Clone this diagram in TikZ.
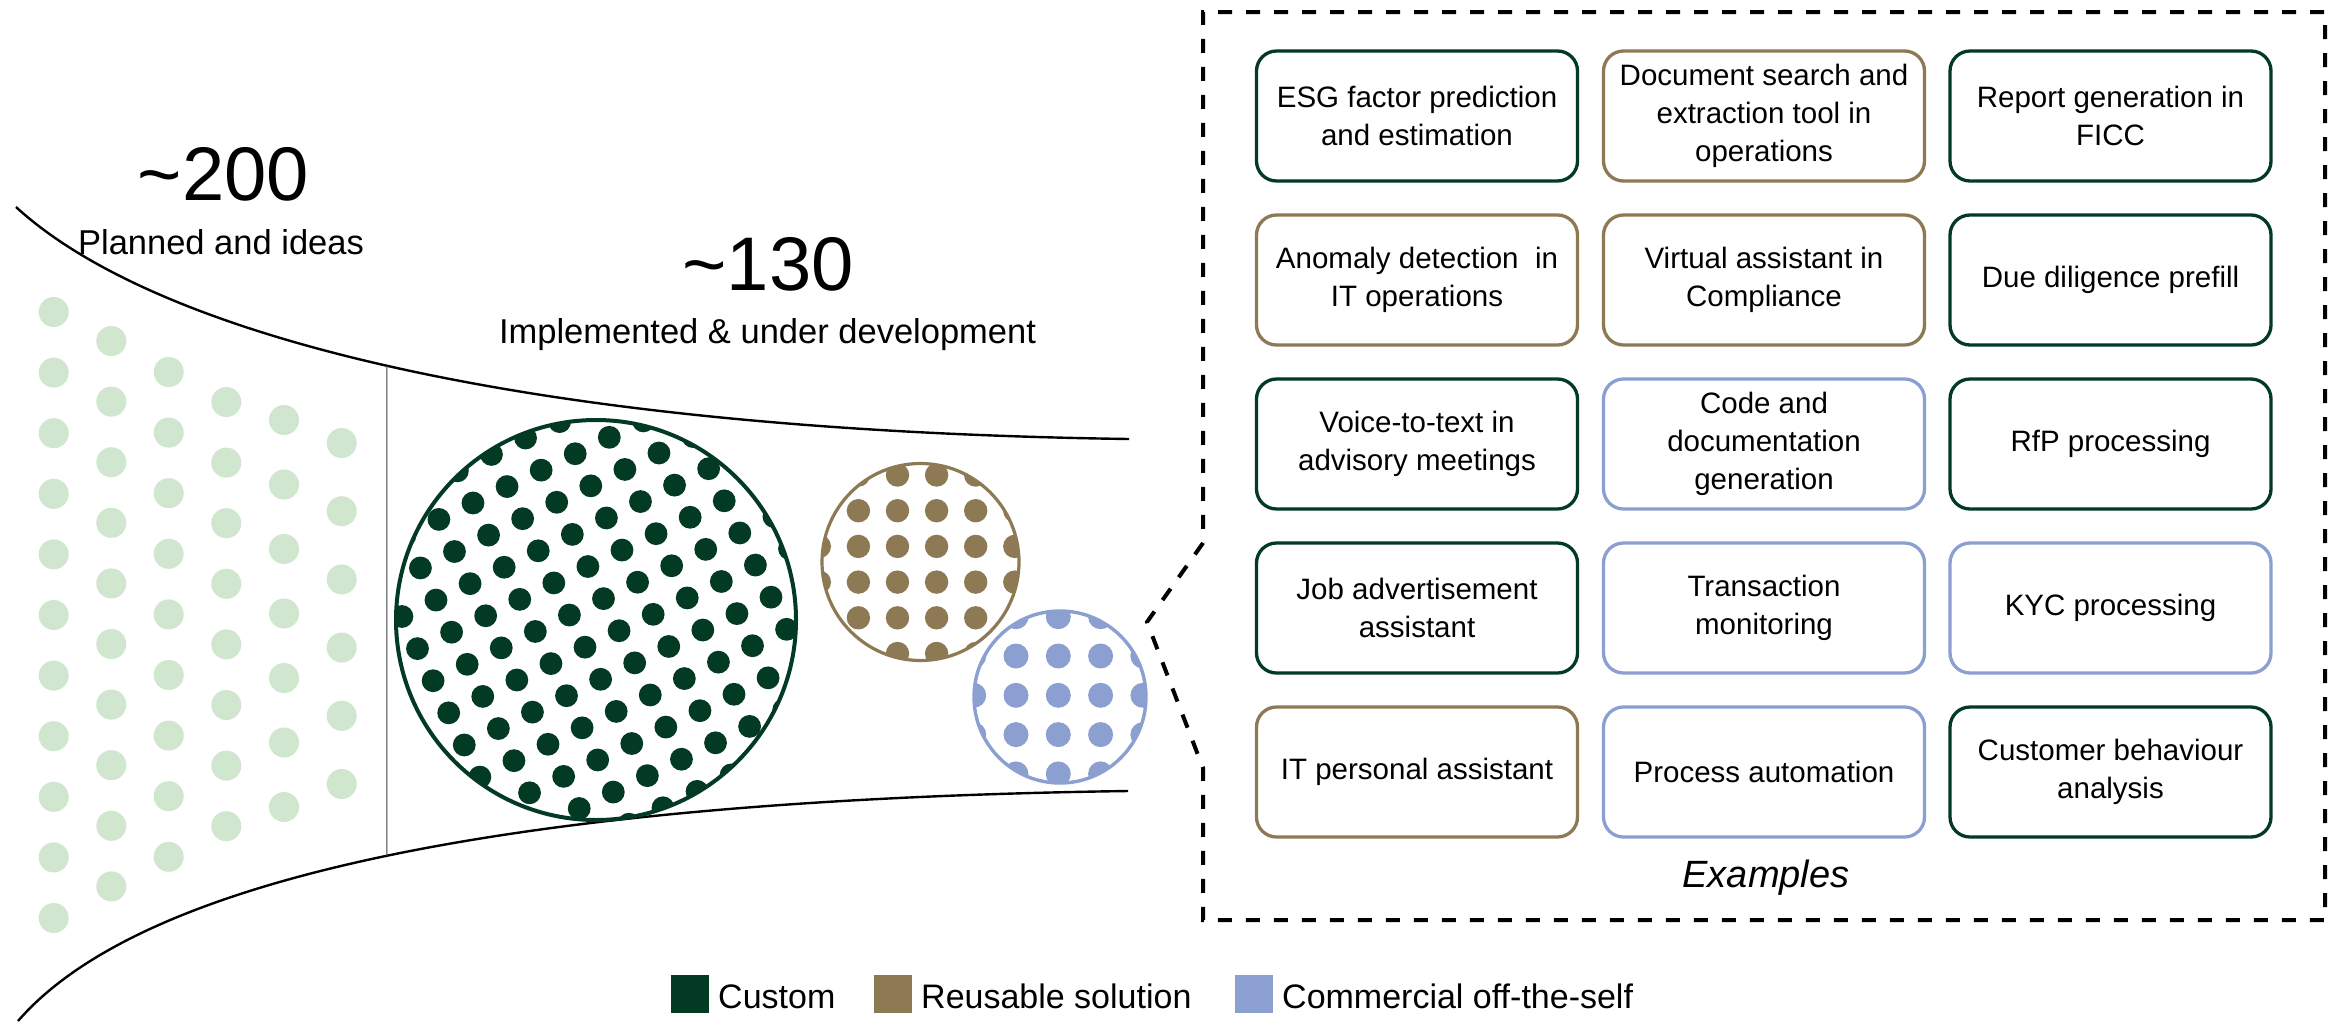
\documentclass[tikz,border=0pt]{standalone}
\usepackage{fontspec}
\setmainfont{Liberation Sans}
\usetikzlibrary{calc,intersections}
\definecolor{custom}{HTML}{033A24}
\definecolor{reuse}{HTML}{8D7953}
\definecolor{cots}{HTML}{8BA0D1}
\definecolor{idea}{HTML}{D0E6CF}

\begin{document}
\begin{tikzpicture}[x=1pt, y=-1pt,
  usecase/.style={draw=#1, line width=3.3pt, rounded corners=20pt,
    minimum width=321pt, minimum height=130pt, inner sep=0pt,
    align=center, font=\fontsize{29.5}{38}\selectfont},
  bigfig/.style={font=\fontsize{76}{76}\selectfont, anchor=base, inner sep=0pt},
  subtitle/.style={font=\fontsize{34.5}{40}\selectfont, anchor=base, inner sep=0pt},
  legbox/.style={fill=#1, minimum size=38pt, inner sep=0pt},
  legtext/.style={font=\fontsize{34}{40}\selectfont, anchor=base west, inner sep=0pt},
  funnel/.style={line width=2.4pt, black},
  callout/.style={line width=4pt, dash pattern=on 14pt off 14pt},
]
\useasboundingbox (0,0) rectangle (2339,1021);
\fill[white] (0,0) rectangle (2339,1021);

% ideas: columns of light dots, thinning towards the funnel neck
\foreach \cx/\cy/\dy/\last in {53.7/312/60.6/10, 111.3/341/60.6/9, 168.7/372/60.6/8,
                               226.3/402/60.6/7, 284/420/64.5/6, 341.7/443/68.2/5}{
  \foreach \k in {0,...,\last}{
    \fill[idea] (\cx,{\cy+\k*\dy}) circle[radius=15pt];
  }
}

% funnel outline
\draw[funnel, name path=topc] (16,207) .. controls (150,330) and (500,430) .. (1129,439)
  coordinate[pos=0.5] (vtop);
\draw[funnel, name path=botc] (18,1021) .. controls (140,880) and (500,800) .. (1128,791);
\path[name path=vline] (vtop) -- ++(0,700);
\draw[line width=1.2pt, black!75, name intersections={of=vline and botc, by=vbot}] (vtop) -- (vbot);

% headline figures
\node[bigfig] (n200) at (223.5,200) {\textasciitilde200};
\node[subtitle] (t200) at (221,254) {Planned and ideas};
\node[bigfig] (n130) at (768,290) {\textasciitilde130};
\node[subtitle] (t130) at (767.5,343) {Implemented \& under development};

% custom solutions
\node[circle, fill=white, minimum size=400pt, inner sep=0pt] (cust) at (596,620) {};
\begin{scope}
  \clip (cust.center) circle[radius=200pt];
  \foreach \m in {-2,...,11}{
    \foreach \n in {-2,...,16}{
      \fill[custom] ($(609.3,437.3)+\m*(49.67,15.7)+\n*(-34.08,16.42)$) circle[radius=11.4pt];
    }
  }
\end{scope}
\draw[custom, line width=4pt] (cust.center) circle[radius=200pt];

% reusable solutions
\node[circle, fill=white, minimum size=197pt, inner sep=0pt] (reus) at (920.5,562) {};
\begin{scope}
  \clip (reus.center) circle[radius=98.5pt];
  \foreach \i in {-1,...,6}{
    \foreach \j in {-1,...,6}{
      \fill[reuse] ({819.3+\i*39.1},{475+\j*35.7}) circle[radius=11.7pt];
    }
  }
\end{scope}
\draw[reuse, line width=3.2pt] (reus.center) circle[radius=98.5pt];

% commercial off-the-shelf
\node[circle, fill=white, minimum size=172pt, inner sep=0pt] (cotsc) at (1060,697) {};
\begin{scope}
  \clip (cotsc.center) circle[radius=86pt];
  \foreach \i in {-1,...,5}{
    \foreach \j in {-1,...,5}{
      \fill[cots] ({973.7+\i*42.3},{616.7+\j*39.3}) circle[radius=12.5pt];
    }
  }
\end{scope}
\draw[cots, line width=3.4pt] (cotsc.center) circle[radius=86pt];

% callout frame with examples
\coordinate (dtl) at (1203,12);
\coordinate (dtr) at (2325,12);
\coordinate (dbr) at (2325,920);
\coordinate (dbl) at (1203,920);
\coordinate (nu) at (1203,543);
\coordinate (tip) at (1147,622);
\coordinate (nl) at (1203,768);
\draw[callout] (nu) -- (tip) -- (nl) -- (dbl) -- (dbr) -- (dtr) -- (dtl) -- cycle;

\node[usecase=custom] (u11) at (1417,116) {ESG factor prediction\\and estimation};
\node[usecase=reuse]  (u12) at (1764,116) {Document search and\\extraction tool in\\operations};
\node[usecase=custom] (u13) at (2110.5,116) {Report generation in\\FICC};

\node[usecase=reuse]  (u21) at (1417,280) {Anomaly detection\ \ in\\IT operations};
\node[usecase=reuse]  (u22) at (1764,280) {Virtual assistant in\\Compliance};
\node[usecase=custom] (u23) at (2110.5,280) {Due diligence prefill};

\node[usecase=custom] (u31) at (1417,444) {Voice-to-text in\\advisory meetings};
\node[usecase=cots]   (u32) at (1764,444) {Code and\\documentation\\generation};
\node[usecase=custom] (u33) at (2110.5,444) {RfP processing};

\node[usecase=custom] (u41) at (1417,608) {Job advertisement\\assistant};
\node[usecase=cots]   (u42) at (1764,608) {Transaction\\monitoring};
\node[usecase=cots]   (u43) at (2110.5,608) {KYC processing};

\node[usecase=reuse]  (u51) at (1417,772) {IT personal assistant};
\node[usecase=cots]   (u52) at (1764,772) {Process automation};
\node[usecase=custom] (u53) at (2110.5,772) {Customer behaviour\\analysis};

\node[font=\fontsize{38}{40}\selectfont\itshape, anchor=base, inner sep=0pt] (examples) at (1766,887) {Examples};

% legend
\node[legbox=custom] (lg1) at (690,994) {};
\node[legtext] (lt1) at (718,1008) {Custom};
\node[legbox=reuse] (lg2) at (893,994) {};
\node[legtext] (lt2) at (921,1008) {Reusable solution};
\node[legbox=cots] (lg3) at (1253.5,994) {};
\node[legtext] (lt3) at (1282,1008) {Commercial off-the-self};
\end{tikzpicture}
\end{document}
